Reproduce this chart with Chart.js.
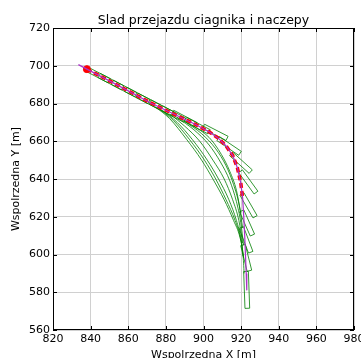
<!DOCTYPE html>
<html>
<head>
<meta charset="utf-8">
<title>Slad przejazdu</title>
<script src="https://cdn.jsdelivr.net/npm/chart.js"></script>
<style>
  body { margin: 0; background: #fff; }
  canvas { display: block; }
</style>
</head>
<body>
<canvas id="trackChart" width="361" height="358"></canvas>
<script>
// tick labels
const xTicks = [820, 840, 860, 880, 900, 920, 940, 960, 980];
const yTicks = [560, 580, 600, 620, 640, 660, 680, 700, 720];

// path of the vehicle (magenta line)
const pathX = [833.5, 838, 850, 860, 872, 885, 895, 903, 908, 912, 915.5, 918, 919.8, 920.8, 921.4, 921.9, 922.3, 922.7, 923];
const pathY = [700.6, 698.2, 692, 686.7, 680.3, 674, 669.3, 665, 661.5, 657.5, 652.5, 646, 638, 630, 620, 610, 600, 590, 581];

// red dashed trace
const redX = [838, 850, 860, 872, 885, 895, 903, 908, 912, 915.5, 918, 919.8, 920.8];
const redY = [698.2, 692, 686.7, 680.3, 674, 669.3, 665, 661.5, 657.5, 652.5, 646, 638, 630];

// vehicle outlines: front and rear of each body [m]
const rectFrontX = [850, 857, 864, 871, 877, 884, 890, 896, 903, 912.5, 919.4, 925.1, 927.9, 927.4, 926, 925.1, 924.4, 923.3];
const rectFrontY = [692, 688.3, 684.7, 681, 677.9, 674.3, 671.2, 668.8, 665, 661.5, 653.6, 643.9, 632.8, 620, 610.3, 601.2, 591.4, 571.5];
const rectRearX = [837.6, 844.6, 851.6, 858.6, 864.6, 871.6, 877.6, 883.6, 890.5, 900, 907.8, 914.7, 919.7, 920.4, 920.3, 920.1, 921, 922.6];
const rectRearY = [698.4, 694.8, 691.2, 687.5, 684.4, 680.8, 677.7, 675.3, 671.5, 667.9, 661.4, 653.3, 644.1, 632.1, 623.1, 614.3, 605, 591];
const bodyWidth = 2.5;

// green traces cutting the inside of the bend
const curvesX = [
  [874, 882, 891, 899, 905, 911, 916, 919.4, 921, 921.6],
  [876, 884, 892.5, 900.5, 906.5, 912, 916.8, 919.7, 921.1],
  [878, 886, 894, 902, 908, 913.5, 917.5, 920, 921.3],
  [882, 890, 898, 905, 911, 915.5, 918.8, 920.8],
  [886, 895, 903, 909, 914, 917.5, 919.8, 921.3],
  [890, 899, 906.5, 912, 916, 919, 920.8],
  [894, 903, 909.5, 914, 917.5, 919.8]
];
const curvesY = [
  [678.5, 672, 661, 650, 640, 629, 618, 609, 600, 590],
  [677.5, 671, 661, 650, 640, 629, 618, 608.5, 599],
  [676.5, 670, 661, 650, 640, 629, 618, 608, 598],
  [674.5, 668, 660, 650, 640, 629, 618, 606],
  [672.5, 666, 658, 649, 639, 628, 617, 605],
  [670.5, 664, 656, 647, 637, 626, 614],
  [668.5, 662, 653, 644, 634, 622]
];

function toPoints(xs, ys) {
  return xs.map((x, i) => ({x: x, y: ys[i]}));
}

// outline of a body between its front and rear point
function outline(fx, fy, rx, ry, w) {
  const dx = fx - rx, dy = fy - ry;
  const len = Math.hypot(dx, dy);
  const nx = -dy / len * w / 2, ny = dx / len * w / 2;
  return [
    {x: fx + nx, y: fy + ny},
    {x: fx - nx, y: fy - ny},
    {x: rx - nx, y: ry - ny},
    {x: rx + nx, y: ry + ny},
    {x: fx + nx, y: fy + ny}
  ];
}

const green = 'rgba(0,128,0,0.8)';
const lineDefaults = {showLine: true, pointRadius: 0, fill: false, tension: 0};

const datasets = [
  Object.assign({data: toPoints(pathX, pathY), borderColor: 'rgb(170,50,200)', borderWidth: 1.2}, lineDefaults),
  {data: [{x: redX[0], y: redY[0]}], pointRadius: 3.5, backgroundColor: 'red', borderColor: 'red', showLine: false},
  Object.assign({data: toPoints(redX, redY), borderColor: 'red', borderWidth: 3.5, borderDash: [5, 3]}, lineDefaults)
];
rectFrontX.forEach((fx, i) => {
  datasets.push(Object.assign({
    data: outline(fx, rectFrontY[i], rectRearX[i], rectRearY[i], bodyWidth),
    borderColor: green, borderWidth: 1
  }, lineDefaults));
});
curvesX.forEach((xs, i) => {
  datasets.push(Object.assign({
    data: toPoints(xs, curvesY[i]), borderColor: green, borderWidth: 1, cubicInterpolationMode: 'monotone', tension: 0.4
  }, {showLine: true, pointRadius: 0, fill: false}));
});

// box around the plot with inward ticks, like matplotlib
const frame = {
  id: 'frame',
  afterDraw(chart) {
    const {ctx, chartArea: a, scales} = chart;
    ctx.save();
    ctx.strokeStyle = '#000';
    ctx.lineWidth = 1;
    ctx.strokeRect(a.left + 0.5, a.top + 0.5, a.right - a.left - 1, a.bottom - a.top - 1);
    ctx.beginPath();
    xTicks.forEach(v => {
      const px = Math.round(scales.x.getPixelForValue(v)) + 0.5;
      ctx.moveTo(px, a.bottom); ctx.lineTo(px, a.bottom - 4);
      ctx.moveTo(px, a.top); ctx.lineTo(px, a.top + 4);
    });
    yTicks.forEach(v => {
      const py = Math.round(scales.y.getPixelForValue(v)) + 0.5;
      ctx.moveTo(a.left, py); ctx.lineTo(a.left + 4, py);
      ctx.moveTo(a.right, py); ctx.lineTo(a.right - 4, py);
    });
    ctx.stroke();
    ctx.restore();
  }
};

const font = {family: 'DejaVu Sans', size: 11};

new Chart(document.getElementById('trackChart'), {
  type: 'scatter',
  data: {datasets: datasets},
  options: {
    responsive: false,
    animation: false,
    events: [],
    layout: {padding: {left: 0, right: 7, top: 0, bottom: 0}},
    plugins: {
      legend: {display: false},
      tooltip: {enabled: false},
      title: {
        display: true,
        text: 'Slad przejazdu ciagnika i naczepy',
        fullSize: false,
        color: '#000',
        font: {family: 'DejaVu Sans', size: 12.5, weight: 'normal', lineHeight: 1},
        padding: {top: 14.5, bottom: 1}
      }
    },
    scales: {
      x: {
        type: 'linear', min: 820, max: 980,
        afterBuildTicks: s => { s.ticks = xTicks.map(v => ({value: v})); },
        ticks: {font: font, color: '#000', padding: 3, maxRotation: 0, callback: v => String(v)},
        grid: {color: '#d0d0d0', drawTicks: false},
        border: {display: false},
        title: {display: true, text: 'Wspolrzedna X [m]', color: '#000',
                font: {family: 'DejaVu Sans', size: 11, lineHeight: 0.6}, padding: 0},
        afterFit(s) { s.height = 28; s.paddingLeft = 0; s.paddingRight = 0; }
      },
      y: {
        type: 'linear', min: 560, max: 720,
        afterBuildTicks: s => { s.ticks = yTicks.map(v => ({value: v})); },
        ticks: {font: font, color: '#000', padding: 3, callback: v => String(v)},
        grid: {color: '#d0d0d0', drawTicks: false},
        border: {display: false},
        title: {display: true, text: 'Wspolrzedna Y [m]', color: '#000',
                font: {family: 'DejaVu Sans', size: 11, lineHeight: 1.2}, padding: {top: 10, bottom: 0}},
        afterFit(s) { s.width = 53; s.paddingTop = 0; s.paddingBottom = 0; }
      }
    }
  },
  plugins: [frame]
});
</script>
</body>
</html>
